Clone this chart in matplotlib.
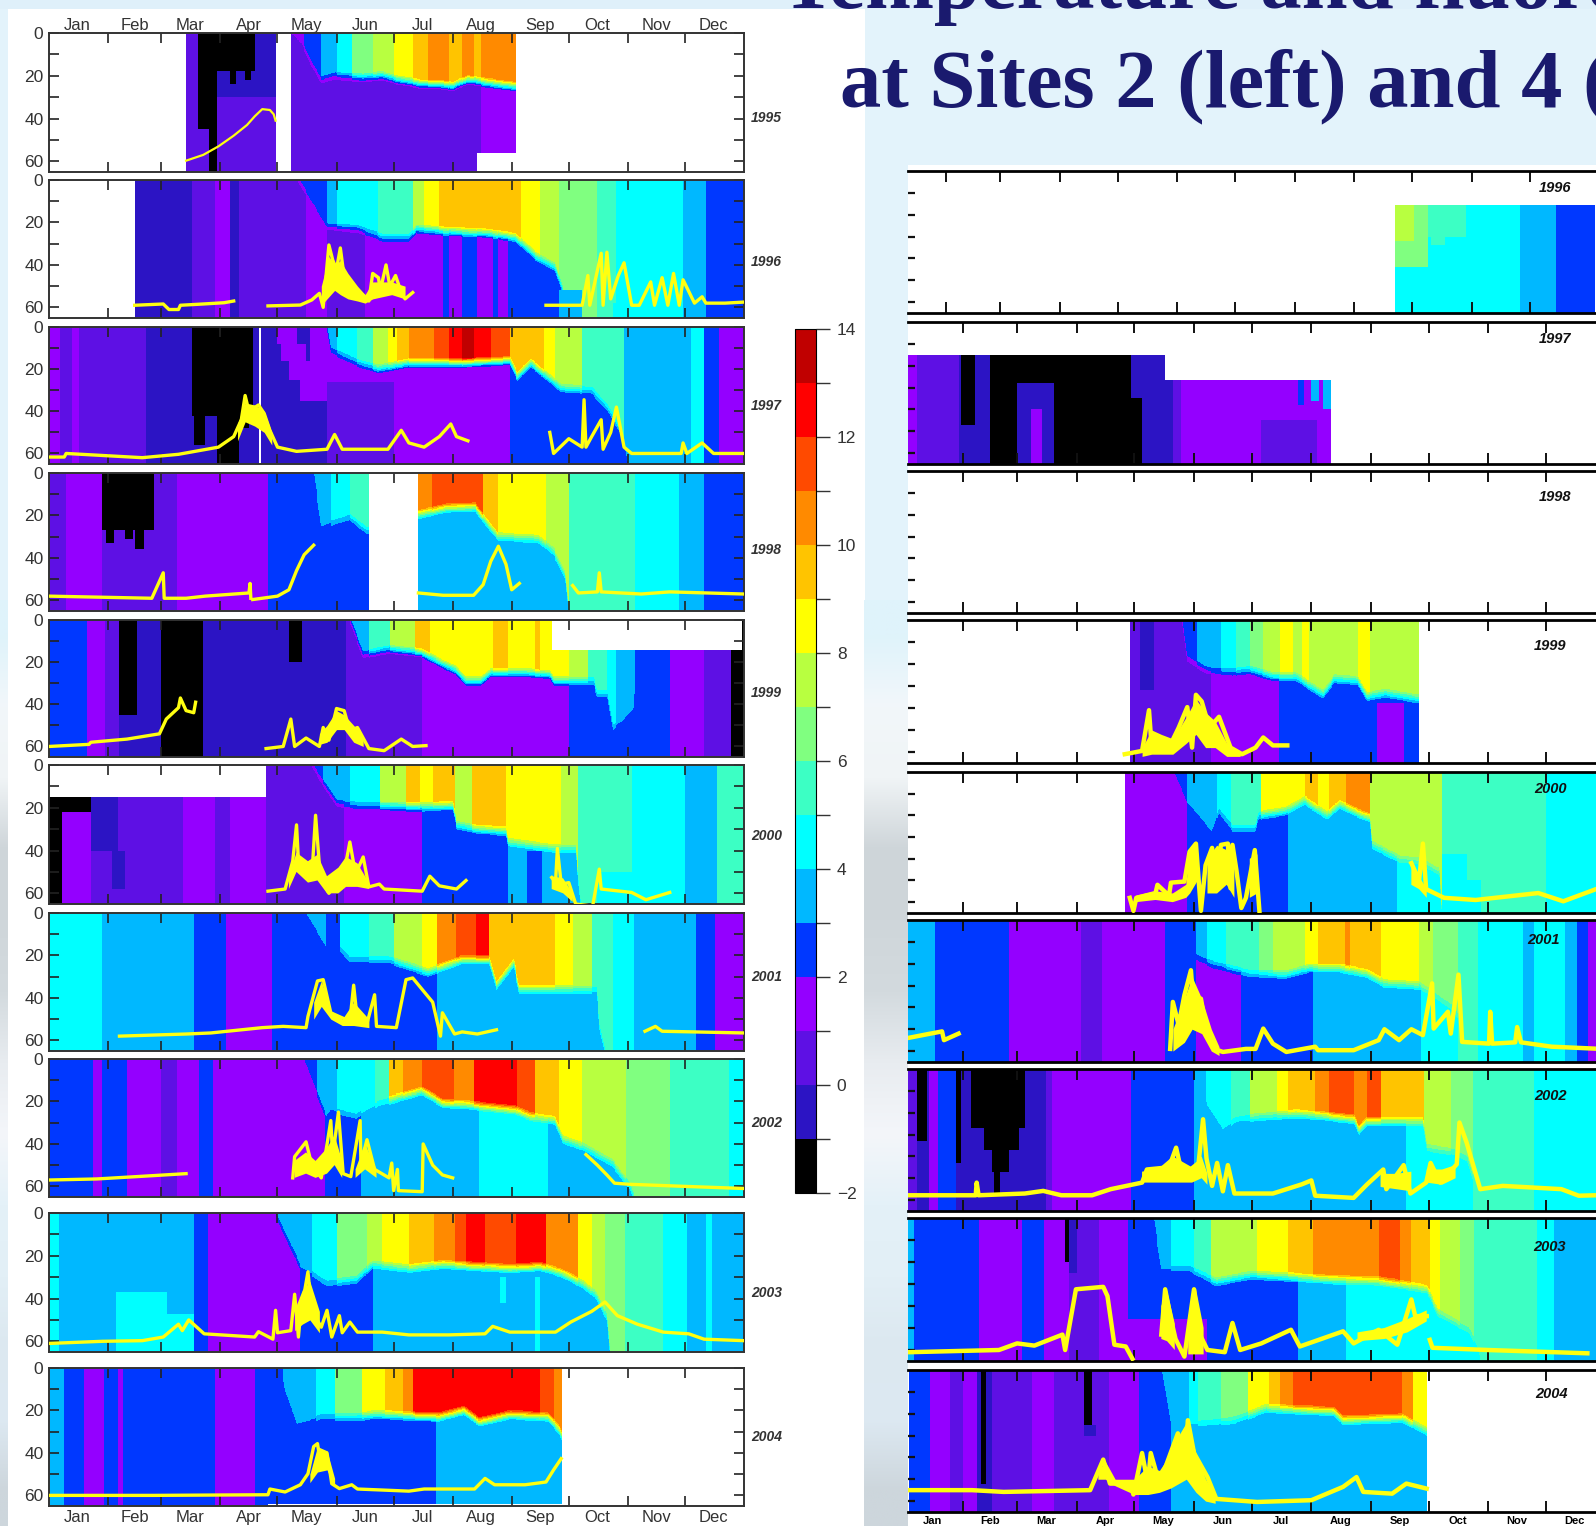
"""Temperature and fluorescence panels, Sites 2 (left) and 4 (right), 1995-2004."""

import numpy as np
import matplotlib
matplotlib.use("Agg")
import matplotlib.pyplot as plt
from matplotlib.colors import ListedColormap, BoundaryNorm, to_rgb
from matplotlib.patches import Rectangle

# temperature of each colour band (band middle, deg C)
K, I, Vi, P, B, S, C, T, G, L, Y, A, O, R, E, D = (
    -1.5, -0.5, 0.5, 1.5, 2.5, 3.5, 4.5, 5.5, 6.5, 7.5, 8.5, 9.5, 10.5, 11.5, 12.5, 13.5)
NA = float("nan")

BAND_COLORS = ["#000000", "#2c14c4", "#5e10e4", "#9400ff", "#0038ff", "#00b8ff", "#00ffff",
               "#3cffc4", "#80ff80", "#b8ff40", "#ffff00", "#ffc400", "#ff8a00", "#ff4a00",
               "#ff0000", "#c00000"]
MONTHS = ["Jan", "Feb", "Mar", "Apr", "May", "Jun", "Jul", "Aug", "Sep", "Oct", "Nov", "Dec"]
MONTH_STARTS = [31, 59, 90, 120, 151, 181, 212, 243, 273, 304, 334]
MONTH_MIDS = [15, 45, 74, 105, 135, 166, 196, 227, 258, 288, 319, 349]
STRIP_COLORS = ["#dff3fb", "#f2f7fa", "#f0f4f6", "#ced5d9", "#cfd6da", "#d3dade", "#e8ecf0", "#f4f6fa",
                "#e4f1f8", "#e2eff6", "#dce8f0", "#dde9f2", "#cdd6dc"]

LEFT_YEARS = [1995, 1996, 1997, 1998, 1999, 2000, 2001, 2002, 2003, 2004]
RIGHT_YEARS = [1996, 1997, 1998, 1999, 2000, 2001, 2002, 2003, 2004]

# ---- Site 2 (left) ----
l1995_top_d = [127, 134, 143, 151, 159, 170, 181, 191, 199, 210, 217, 223, 227, 245]
l1995_top_t = [P, B, S, C, G, L, Y, A, O, A, O, A, O]
l1995_deep_d = [72, 78, 119, 127, 227, 245]
l1995_deep_t = [Vi, Vi, Vi, Vi, P]
l1995_mld_d = [127, 133, 138, 143, 150, 165, 175, 183, 190, 196, 205, 212, 220, 228, 236, 245]
l1995_mld_z = [0, 5, 15, 22, 20, 21, 20, 22, 23, 24, 24, 25, 22, 23, 24, 25]
l1995_patches = [(88, 119, 0, 30, I), (78, 108, 0, 18, K), (95, 98, 18, 24, K), (103, 106, 18, 22, K),
                 (78, 84, 18, 45, K), (84, 88, 18, 65, K), (119, 127, 0, 65, NA), (225, 246, 56, 65, NA)]
l1995_fl_d = [72, 81, 89, 97, 104, 108, 112, 116, 118, 119]
l1995_fl_z = [59.7, 57, 53, 48, 43, 39, 35.6, 36, 38, 41]

l1996_top_d = [131, 146, 151, 173, 191, 197, 205, 248, 258, 268, 288, 298, 333, 345, 365]
l1996_top_t = [B, S, C, T, L, Y, A, Y, L, G, T, C, S, B]
l1996_deep_d = [45, 75, 87, 95, 100, 135, 146, 166, 207, 210, 217, 225, 233, 236, 241, 272]
l1996_deep_t = [I, Vi, P, I, Vi, P, Vi, P, B, P, B, P, B, P, B]
l1996_mld_d = [131, 146, 162, 175, 189, 193, 207, 229, 245, 256, 266, 270, 272, 273, 365]
l1996_mld_z = [0, 22, 23, 27, 27, 23, 24, 25, 27, 36, 41, 52, 65, 70, 70]
l1996_patches = [(268, 280, 52, 65, S), (296, 300, 58, 65, C)]
l1996_fl_d = [45, 60, 63, 68, 69, 81, 92, 97, NA, 115, 132, 138, 142, 144, 145, 147, 149, 151, 153, 155, 159,
              162, 166, 168, 170, 173, 174, 177, 179, 182, 185, 187, 191, NA, 261, 280, 283, 284, 290, 291,
              293, 295, 299, 302, 306, 310, 316, 318, 322, 325, 328, 331, 333, 339, 343, 345, 355, 365]
l1996_fl_z = [59, 58.4, 61, 61, 59, 58.4, 57.8, 57, NA, 59.3, 58.9, 56.5, 53.4, 60, 50, 30.6, 37.7, 42, 32, 45.5,
              48.7, 52, 55, 57, 44, 46, 52, 40, 50, 45, 53, 56, 53, NA, 59, 59, 45, 59, 34.5, 59,
              34, 56, 45, 39, 59, 59, 48, 59, 46, 59, 44, 59, 47, 58, 55, 58, 58, 57.5]
l1996_fill_d = [143, 147, 150, 153, 157, 162, 166, 170, 180, 187]
l1996_fill_up = [50, 36, 40, 38, 44, 50, 54, 48, 48, 50]
l1996_fill_lo = [59, 55, 52, 54, 56, 57, 58, 56, 54, 56]

l1997_top_d = [146, 151, 162, 170, 178, 183, 189, 202, 210, 217, 223, 232, 242, 260, 266, 280, 302, 337, 344, 352, 365]
l1997_top_t = [S, C, T, L, Y, A, O, R, E, D, E, R, A, Y, L, T, S, C, B, P]
l1997_deep_d = [0, 6, 12, 16, 51, 75, 146, 242, 304]
l1997_deep_t = [P, Vi, P, Vi, I, I, P, B]
l1997_mld_d = [146, 148, 162, 173, 189, 215, 242, 246, 253, 261, 269, 285, 293, 301, 304, 305, 365]
l1997_mld_z = [0, 11, 17, 20, 17, 17, 16, 23.5, 17, 23, 29, 30, 38, 50, 65, 70, 70]
l1997_patches = [(120, 130, 0, 8, P), (122, 135, 8, 16, P), (126, 140, 16, 25, P), (132, 146, 25, 35, P), (137, 146, 0, 25, P),
                 (146, 181, 26, 65, Vi), (75, 107, 0, 42, K), (76, 82, 42, 56, K), (88, 100, 42, 65, K), (100, 105, 42, 48, K),
                 (110.5, 111.5, 0, 65, NA)]
l1997_fl_d = [0, 8, 9, 49, 68, 89, 97, 101, 103, 105, 110, 113, 116, 120, 130, 146, 150, 154, 178, 185, 189, 197, 205, 211, 214, 220,
              NA, 263, 265, 273, 280, 281, 282, 285, 290, 291, 295, 298, 302, 306, 332, 333, 335, 343, 349, 365]
l1997_fl_z = [61.7, 61.7, 60, 62, 60.4, 57, 52, 44, 32.5, 40, 37, 41, 49, 57, 59, 58, 51, 58, 58, 49, 55, 57, 52, 46, 52, 54,
              NA, 50, 60, 53, 57, 34.5, 57, 52, 44, 58, 50, 38, 57, 60, 60, 55, 60, 55, 60, 60]
l1997_fill_d = [99, 103, 108, 113, 117]
l1997_fill_up = [46, 36, 37, 40, 50]
l1997_fill_lo = [54, 45, 47, 50, 56]

l1998_top_d = [139, 148, 158, 168, 194, 201, 228, 236, 261, 273, 308, 331, 344, 365]
l1998_top_t = [S, C, T, T, O, R, A, Y, L, T, C, S, B]
l1998_deep_d = [0, 9, 21, 28, 55, 67, 115, 168, 194, 275]
l1998_deep_t = [Vi, P, P, Vi, Vi, P, B, NA, S]
l1998_mld_d = [139, 143, 158, 167, 194, 209, 224, 232, 236, 257, 265, 271, 273, 274, 365]
l1998_mld_z = [0, 25, 21, 27, 19.6, 16.5, 16, 26, 30, 31, 37, 48, 65, 70, 70]
l1998_patches = [(28, 55, 0, 27, K), (30, 34, 27, 33, K), (40, 44, 27, 31, K), (45, 50, 27, 36, K), (168, 194, 0, 65, NA)]
l1998_fl_d = [0, 54, 56, 60, 60.5, 72, 82, 105, 105.6, 106, NA, 107, 120, 126, 130, 134, 139,
              NA, 194, 207, 223, 228, 232, 236, 240, 243, 247, NA, 275, 278, 288, 289, 290, 311, 326, 365]
l1998_fl_z = [58, 59, 55, 47, 59, 59, 58, 56.5, 52, 59, NA, 59.6, 58, 55, 46, 38.5, 34,
              NA, 56.5, 57.6, 57.6, 52.6, 41.6, 34.5, 43, 55, 52, NA, 53, 56.5, 56, 47, 56, 57, 56, 57]

l1999_top_d = [158, 163, 168, 179, 192, 200, 233, 241, 255, 258, 273, 283, 293, 298, 308]
l1999_top_t = [S, S, T, L, A, Y, A, Y, A, Y, L, T, C, S]
l1999_deep_d = [0, 20, 29.5, 37, 46, 59, 81, 156, 196, 273, 293, 326, 344, 358, 365]
l1999_deep_t = [B, P, Vi, I, I, K, I, Vi, P, B, B, P, Vi, K]
l1999_mld_d = [158, 165, 179, 196, 207, 214, 219, 227, 232, 250, 263, 265, 286, 288, 293, 296, 301, 307, 308, 309]
l1999_mld_z = [0, 16.5, 14, 15.7, 21, 24, 29, 29, 25, 25, 26, 29, 29, 35, 35, 51, 48, 41.6, 15, 0]
l1999_patches = [(37, 46, 0, 45, K), (126, 133, 0, 20, K), (264, 364, 0, 14.1, NA)]
l1999_fl_d = [0, 21, 22, 41, 58, 61.6, 68, 69, 72, 76, 77, NA, 114, 123, 127, 129, 135, 142, 144, 147, 151, 155, 158, 162, 168, 176, 185, 191, 198]
l1999_fl_z = [60, 59, 58, 56.5, 54, 47, 41.6, 37, 43, 44, 39, NA, 61, 60, 47, 60, 56, 60, 51, 57, 42, 43, 52.6, 51, 61, 62, 56.5, 60, 59.6]
l1999_fill_d = [142, 146, 151, 155, 160, 165]
l1999_fill_up = [54, 50, 43, 45, 50, 55]
l1999_fill_lo = [59, 58, 52, 52, 58, 60]

l2000_top_d = [138, 144, 158, 174, 187.5, 195, 201.5, 213, 222, 240, 269, 278, 306, 334, 351, 365]
l2000_top_t = [B, S, C, L, A, Y, A, L, A, Y, L, T, C, S, T]
l2000_deep_d = [0, 7, 22, 70.5, 87, 95, 114, 155, 196, 241, 280]
l2000_deep_t = [K, P, Vi, P, Vi, P, Vi, P, B, S]
l2000_mld_d = [138, 151, 163, 196, 212, 214, 224, 240, 241, 265, 277, 278, 280, 365]
l2000_mld_z = [0, 18, 19, 19.6, 19, 28, 30, 31, 36, 39, 39, 53, 70, 70]
l2000_patches = [(0, 114, 0, 15, NA), (7, 22, 15, 22, K), (22, 36, 15, 40, I), (33, 40, 40, 58, I), (251, 259, 40, 65, B),
                 (288, 306, 50, 65, C)]
l2000_fl_d = [115, 124, 128, 130, 131, 135, 138, 140, 142.5, 147, 154.5, 158, 161, 165, 168, 173.5, 176, 196, 200, 205, 214, 219,
              NA, 264, 266, 267, 269, 273, 276.6, 285.5, 289, 290, 306, 313.5, 326]
l2000_fl_z = [59, 58, 45, 28, 45, 48, 52.6, 23.5, 52.6, 60, 52.6, 36, 51, 43, 57, 55.7, 58, 59, 52, 56.5, 58, 54,
              NA, 52.6, 55, 39, 55.7, 55, 65, 66, 48.7, 58, 59.6, 63, 59.6]
l2000_fill_d = [126, 130, 136, 141, 146, 152, 156, 162, 168, NA, 264, 270, 275]
l2000_fill_up = [52, 41, 45, 42, 52, 48, 43, 46, 55, NA, 52, 53, 60]
l2000_fill_lo = [58, 50, 55, 54, 60, 60, 57, 57, 58, NA, 58, 60, 64]

l2001_top_d = [135, 145.5, 153, 168, 181, 196, 204, 214, 224, 231, 242, 266, 275, 285, 296, 307, 340, 350, 365]
l2001_top_t = [S, B, C, T, L, Y, O, R, E, A, A, Y, L, T, C, S, B, P]
l2001_deep_d = [0, 28, 76, 93, 117, 204, 292]
l2001_deep_t = [C, S, B, P, B, S]
l2001_mld_d = [135, 145.5, 153, 158, 178.6, 199, 217, 231, 235, 244, 247, 263, 288, 289, 292, 293, 365]
l2001_mld_z = [0, 16, 17, 22, 22, 28, 22, 22, 34.5, 23.5, 36, 36, 36, 53, 65, 70, 70]
l2001_patches = []
l2001_fl_d = [37, 72, 85, 112, 123, 135, 136, 141, 144, 148, 158, 160, 162, 167, 171, 172, 182.4, 187.5, 191, 201.5, 205.6, 206.6, 213, 217, 225, 235,
              NA, 313, 318.5, 322, 365]
l2001_fl_z = [58, 57, 56.5, 54, 53.4, 54, 48.7, 32, 31.4, 47, 51, 34, 51, 52, 38.5, 53.4, 54, 31.4, 30.6, 42, 58, 47, 57, 56, 57, 55,
              NA, 55.7, 53.4, 55.7, 56.5]
l2001_fill_d = [139, 143, 148, 154, 160, 168]
l2001_fill_up = [42, 32, 46, 50, 42, 50]
l2001_fill_lo = [50, 44, 50, 53, 53, 54]

l2002_top_d = [134, 141, 151, 171, 178.5, 186, 196, 212.5, 223, 246, 255, 268, 280, 303, 326, 357, 365]
l2002_top_t = [B, S, C, T, A, O, R, O, E, R, A, Y, L, G, T, C]
l2002_deep_d = [0, 23, 28, 41, 50, 59, 67, 79, 86, 96, 145, 164, 226, 262, 308]
l2002_deep_t = [B, P, B, P, P, Vi, P, B, P, P, B, S, C, S]
l2002_mld_d = [134, 145.5, 148, 161, 173, 196, 207, 219, 245, 252.6, 266, 270, 280, 296, 305, 307, 308, 365]
l2002_mld_z = [0, 27, 24, 27, 21, 15, 21, 21.6, 24, 27, 29, 38, 41, 49, 60, 65, 70, 70]
l2002_patches = []
l2002_fl_d = [0, 25, 46, 72, NA, 128, 129, 135, 138, 143, 145.5, 148, 149, 152, 154.5, 158.5, 163.4, 163.8, 167, 171, 178.6, 180, 181, 183, 183.5, 196, 196.5,
              201.5, 206.6, 212, NA, 282, 288, 293, 297, 304.6, 334, 365]
l2002_fl_z = [57, 56.5, 55.4, 54, NA, 56, 46, 39, 50, 56, 43, 29, 46, 25, 54, 55.4, 29, 49, 38, 52, 56, 49, 62, 52, 62, 62.5, 40,
              50, 54.6, 56, NA, 45, 50, 54.6, 58.5, 59, 60, 61]
l2002_fill_d = [129, 135, 140, 146, 150, 154, NA, 161, 166, 172]
l2002_fill_up = [48, 44, 48, 42, 36, 48, NA, 52, 40, 52]
l2002_fill_lo = [56, 54, 56, 54, 50, 56, NA, 56, 52, 56]

l2003_top_d = [119, 138, 151, 167, 175, 189, 202, 213, 219, 229, 245, 261, 278, 285, 292, 302.5, 322.6, 335, 345, 348, 365]
l2003_top_t = [S, C, G, L, Y, A, O, R, E, R, E, O, Y, L, G, T, C, S, C, S]
l2003_deep_d = [0, 5, 76, 83.6, 119, 132, 170, 295]
l2003_deep_t = [C, S, B, P, P, B, S]
l2003_mld_d = [119, 127, 132, 146, 162, 170, 189, 207, 242, 258, 269, 280, 288, 293, 294.5, 295, 365]
l2003_mld_z = [0, 16, 25, 33, 31, 24, 26, 24, 26, 25, 28, 33, 39, 49, 65, 70, 70]
l2003_patches = [(35, 62, 37, 65, C), (62, 76, 47, 65, C), (255.5, 258, 30, 65, C), (237, 240, 30, 42, C)]
l2003_fl_d = [0, 28, 49, 60, 68, 70, 73.4, 81.5, 108, 110, 117.6, 119, 120, 127, 129, 131, 132, 136, 138, 143, 146, 148.5, 152.5, 154, 158, 162,
              175, 189, 210, 229, 233, 242, 266, 274, 285, 292, 298.5, 309, 322.6, 336, 344, 365]
l2003_fl_z = [61, 60, 59.7, 58, 52, 55, 50, 56.5, 58, 55.5, 59, 45.5, 56, 55, 38, 58, 48, 27.5, 45.5, 53.4, 45.5, 58, 48, 56, 51, 55.7,
              55.7, 57, 57, 56.5, 53, 55.7, 55.7, 51, 46, 41.6, 48, 52, 55.7, 56.5, 59, 59.7]
l2003_fill_d = [129, 133, 137, 142]
l2003_fill_up = [45, 36, 32, 46]
l2003_fill_lo = [55, 52, 50, 56]

l2004_top_d = [123, 140, 150, 164.5, 176.6, 186, 191, 258, 265, 269.5]
l2004_top_t = [S, C, G, Y, A, O, E, R, O]
l2004_deep_d = [0, 8, 18.5, 29, 36, 39, 87, 108, 203, 269.5]
l2004_deep_t = [S, B, P, B, P, B, P, B, S]
l2004_mld_d = [122, 124, 130, 143, 162, 171, 205, 218, 226, 242, 262, 268, 269.5]
l2004_mld_z = [0, 10.5, 26.4, 23, 23, 22, 23, 20, 25.4, 22, 23, 29, 32]
l2004_patches = [(115, 270, 64, 65, NA)]
l2004_fl_d = [0, 55, 115, 116, 124, 132, 136, 139, 141, 143, 146, 148.5, 152.5, 159, 162, 189, 197, 223.5, 229, 234, 250, 261, 265, 269]
l2004_fl_z = [60, 60, 59.7, 57, 58.4, 55, 49.8, 37, 35.6, 47, 40, 54.5, 56.8, 55, 57, 58, 57, 57, 52, 55, 55, 53.7, 48, 42.7]
l2004_fill_d = [137, 141, 146, 150]
l2004_fill_up = [50, 37, 39, 52]
l2004_fill_lo = [54, 49, 48, 56]

# ---- Site 4 (right) ----
r1996_top_d = []
r1996_top_t = []
r1996_deep_d = [264, 329, 347.5, 368]
r1996_deep_t = [C, S, B]
r1996_mld_d = [264, 368]
r1996_mld_z = [0, 0]
r1996_patches = [(264, 369, 0, 15.6, NA), (272, 301, 15.6, 30, T), (283, 290, 30, 34, T), (264, 281, 15.6, 44, G),
                 (264, 274, 15.6, 32, L)]
r1996_fl_d = []
r1996_fl_z = []

r1997_top_d = []
r1997_top_t = []
r1997_deep_d = [2, 7, 29, 45, 124, 140, 144, 222]
r1997_deep_t = [P, Vi, I, K, I, Vi, P]
r1997_mld_d = [2, 222]
r1997_mld_z = [0, 0]
r1997_patches = [(30, 37, 0, 47, K), (59, 78, 28, 65, I), (66, 72, 40, 65, P), (118, 124, 0, 35, I), (186, 215, 45, 65, Vi),
                 (205, 208, 26.5, 38, B), (212, 216, 26.5, 36, S), (218, 222, 26.5, 40, S), (2, 136, 0, 15, NA), (136, 223, 0, 26.5, NA)]
r1997_fl_d = []
r1997_fl_z = []

r1998_top_d = []
r1998_top_t = []
r1998_deep_d = []
r1998_deep_t = []
r1998_mld_d = [0, 365]
r1998_mld_z = [0, 0]
r1998_patches = []
r1998_fl_d = []
r1998_fl_z = []

r1999_top_d = [117.6, 123, 130, 136, 145, 152.5, 165, 173, 180, 187, 195.5, 202.5, 207, 211, 236.5, 242.5, 268]
r1999_top_t = [Vi, I, Vi, P, B, S, C, T, G, L, Y, L, Y, L, Y, L]
r1999_deep_d = [117.6, 160, 195, 268]
r1999_deep_t = [Vi, P, B]
r1999_mld_d = [117.6, 145, 147.6, 157, 171, 180, 192, 204, 218, 224, 236.5, 241, 250.6, 267, 268]
r1999_mld_z = [0, 0, 18, 23, 24, 23, 26, 26, 34, 27, 28, 35, 33.5, 36, 36]
r1999_patches = [(123, 130, 0, 32, I), (246, 260, 38, 65, P)]
r1999_fl_d = [115, 124, 127.6, 129, 133.5, 138, 143, 147.5, 150, 152, 155, 159, 164, 170, 176, 183, 187, 192, 199.5]
r1999_fl_z = [61, 59.5, 41, 58, 53.4, 58, 49, 39.6, 58, 34, 37, 49, 44, 58, 61, 58, 53.4, 57, 57]
r1999_fill_d = [124, 129, 134, 140, 147, 152, 157, 162, 168, 175]
r1999_fill_up = [58, 50, 52, 54, 44, 36, 42, 46, 56, 60]
r1999_fill_lo = [62, 61, 61, 61, 56, 52, 58, 58, 62, 62]

r2000_top_d = [115, 140.5, 147.5, 163, 170, 186, 208.5, 215.5, 221, 230, 242.4, 280, 334, 362]
r2000_top_t = [P, B, S, C, T, Y, A, Y, A, O, L, T, C]
r2000_deep_d = [115, 147.5, 200, 256.5, 293]
r2000_deep_t = [P, B, S, C]
r2000_mld_d = [140.5, 147.6, 160.4, 164, 171, 182.6, 185, 199, 208.5, 220, 227, 239, 242.4, 243.6, 257.6, 268, 278.7, 280, 281, 362]
r2000_mld_z = [0, 14, 27.5, 18, 26, 26, 20, 18, 13, 20, 15, 20, 21, 33.6, 40, 41, 46, 65, 70, 70]
r2000_patches = [(280, 293, 38, 65, C), (293, 300, 50, 65, C)]
r2000_fl_d = [117.6, 119.5, 121, 131, 132, 138, 139, 146, 148.7, 152, 154.6, 157, 160.4, 162, 165, 168.6, 170, 171, 173, 175.6, 178, 182.6, 185,
              NA, 264, 268, 270, 271.7, 281, 297.4, 330, 343, 360]
r2000_fl_z = [58, 64, 58, 55.8, 52, 57, 51, 50.5, 36.7, 33, 64, 43, 35, 52, 33.6, 33, 53.6, 33.6, 45, 62.7, 58, 36, 64,
              NA, 42, 50, 33, 54, 58, 59, 55.8, 59.6, 54]
r2000_fill_d = [121, 131, 140, 147, 149, 153, NA, 158, 163, 168, 172, NA, 180, 184, NA, 264, 268, 272]
r2000_fill_up = [57, 55, 56, 52, 36, 34, NA, 40, 34, 36, 44, NA, 40, 38, NA, 44, 48, 54]
r2000_fill_lo = [60, 59, 60, 58, 56, 50, NA, 56, 56, 52, 58, NA, 58, 56, NA, 52, 54, 58]

r2001_top_d = [152, 158, 167.4, 185, 192, 208.4, 215.5, 229.5, 232, 248, 268, 275, 288, 298.6, 322, 328, 344, 350, 356, 362]
r2001_top_t = [S, C, T, G, L, Y, A, O, A, Y, L, G, T, C, S, C, S, B, P]
r2001_deep_d = [2, 16.4, 55, 92.5, 103, 136, 152, 175.6, 213, 269, 288]
r2001_deep_t = [S, B, P, Vi, P, B, P, B, S, C]
r2001_mld_d = [136, 152, 161.6, 180, 199, 211, 227, 241, 250, 268, 274, 278.6, 285, 288, 289, 362]
r2001_mld_z = [0, 17, 20.6, 24.5, 25, 22, 22, 24.5, 29, 30, 33, 36, 40, 44, 70, 70]
r2001_patches = []
r2001_fl_d = [2.3, 14, 20, 21, 28.6, NA, 138.6, 140, 143, 146, 149.4, 150.5, 154.6, 157, 161.6, 166, 178, 183, 187, 192, 199, 214, 215.5, 234, 247, 250, 257.6, 264, 270, 274.8,
              275.6, 283, 284.5, 288.5, 290.4, 304.4, 305, 306, 318, 319, 321, 337, 360]
r2001_fl_z = [54, 52, 51, 55, 52, NA, 59, 37.5, 48, 34.4, 23, 36, 36, 48, 59, 60.4, 59, 59, 49.7, 56.6, 60.4, 58, 59.6, 59.6, 55, 50, 55, 50, 52.7, 29,
              49.7, 42, 52, 25, 55.8, 56.6, 42, 56.6, 56, 49, 56, 58, 58.9]
r2001_fill_d = [140, 146, 150, 155, 160, 164]
r2001_fill_up = [50, 36, 26, 36, 50, 58]
r2001_fill_lo = [60, 56, 50, 52, 60, 62]

r2002_top_d = [151, 157, 170, 180, 194, 200, 214, 221, 234, 241, 248, 270.5, 284.5, 296, 328, 362]
r2002_top_t = [S, C, T, L, Y, A, O, R, O, R, A, L, G, T, C]
r2002_deep_d = [2, 7, 13, 18, 27, 30, 74, 77, 118, 151, 261, 296]
r2002_deep_t = [Vi, I, P, B, I, I, Vi, P, B, S, C]
r2002_mld_d = [151, 157, 166, 173, 185, 204, 218, 234, 237, 241, 260, 270, 272, 286, 293, 296, 297, 362]
r2002_mld_z = [0, 15, 27.5, 23, 22, 20.6, 21.4, 23, 28, 24, 24, 24, 36, 38, 41, 50, 70, 70]
r2002_patches = [(7, 12, 0, 33, K), (27, 30, 0, 43, K), (35, 63, 0, 27, K), (42, 60, 27, 37, K), (46, 55, 37, 47, K), (47, 50, 47, 58, K)]
r2002_fl_d = [2.3, 37.5, 38, 39, 63, 72.6, 82, 98, 107.7, 124, 126.5, 138, 141.7, 145, 153.4, 155.7, 157.5, 160.4, 163, 166, 168.6, 172, 192, 207, 212, 214, 234, 241, 249.4, 251,
              260, 263.5, 271.7, 274, 279, 287.6, 289, 292.7, 299.8, 311.5, 342, 351, 360]
r2002_fl_z = [57.8, 57.8, 52, 57.8, 57, 55.8, 57.8, 57.8, 55, 52, 46, 45, 36, 49, 43, 23, 41, 53.5, 43, 56, 44, 57, 57, 52.8, 51, 58, 59, 52.8, 46, 55,
              44, 57, 52, 43, 52, 43.6, 24.5, 33.6, 55, 53.5, 55, 58, 57.8]
r2002_fill_d = [124, 132, 140, 150, 155, 158, NA, 248, 256, 264, NA, 272, 280, 287]
r2002_fill_up = [47, 46, 40, 45, 40, 48, NA, 48, 48, 47, NA, 46, 46, 44]
r2002_fill_lo = [52, 52, 52, 52, 50, 53, NA, 54, 55, 56, NA, 52, 53, 50]

r2003_top_d = [130, 139, 151, 160, 184, 200, 213, 247, 258, 264, 273.6, 279, 289.6, 296.7, 329.6, 338, 362]
r2003_top_t = [S, C, T, L, Y, A, O, R, O, A, Y, L, G, T, C, S]
r2003_deep_d = [2, 5.6, 39, 61.4, 73, 86, 101.4, 116.7, 153, 205, 230, 300]
r2003_deep_t = [S, B, P, B, P, Vi, P, B, B, S, C]
r2003_mld_d = [130, 134, 148.5, 162.6, 181, 202.6, 223.8, 247, 264, 272, 278, 294, 299, 300, 362]
r2003_mld_z = [0, 23, 23, 29, 26, 27, 28, 28.6, 31, 32.4, 43, 51, 60, 70, 70]
r2003_patches = [(116.7, 158, 46, 65, P), (84, 86, 0, 20, K), (86, 90, 0, 25, I)]
r2003_fl_d = [2.8, 49.6, 59, 68, 82.6, 84, 89.6, 103.8, 106, 109.6, 115.5, 119, NA, 134, 136, 139, 141.4, 146, 151, 153.5, 158, 167, 171, 175, 186, 201.4, 206, 228.5, 234, 247, 256.7, 264, 266, 272,
              NA, 273.6, 275, 303.8, 355.5]
r2003_fl_z = [61, 60, 57, 58, 53, 60, 32.4, 31.3, 35.5, 57.6, 58.4, 64, NA, 53, 32.4, 46, 55, 63, 32.4, 52, 60, 61, 47.7, 60, 57, 50.8, 58.4, 51.5, 57, 50.8, 57.6, 37, 44.6, 44.6,
              NA, 55.4, 59, 60, 61.5]
r2003_fill_d = [134, 137, 141, NA, 148, 152, 156, NA, 236, 250, 262, 272]
r2003_fill_up = [40, 33, 48, NA, 45, 32, 50, NA, 52, 50, 46, 42]
r2003_fill_lo = [55, 56, 60, NA, 62, 62, 62, NA, 56, 55, 52, 47]

r2004_top_d = [134.4, 148.5, 153, 165, 179, 190, 195.5, 202.6, 259, 265, 272]
r2004_top_t = [S, C, T, G, Y, A, O, R, O, Y]
r2004_deep_d = [3, 13.6, 24, 31, 38, 46, 67, 78, 107, 122.6, 139, 272]
r2004_deep_t = [B, P, Vi, P, I, Vi, P, Vi, P, B, S]
r2004_mld_d = [134.4, 139, 153, 172, 188.5, 224, 228.5, 259, 271, 272]
r2004_mld_z = [0, 24.5, 24.5, 23, 17.6, 19, 23, 22, 27.5, 28]
r2004_patches = [(40, 43, 0, 52, K), (94, 98, 0, 25, K), (94, 100, 25, 30, I)]
r2004_fl_d = [3, 35.5, 52, 97, 101.4, 103.8, 107.3, 118, 119.5, 124, 127, 128.5, 133, 142.6, 146, 147.8, 151, 158, 162.6, 183.8, 212, 228.5, 235.5, 239, 254, 261.4, 272]
r2004_fl_z = [55, 55, 55.8, 55, 45.9, 41, 52, 52, 57, 38, 52, 38, 52, 29, 47, 23, 38, 49, 59, 60.4, 59.6, 53.5, 49, 55.8, 56.6, 52, 54.3]
r2004_fill_d = [101, 105, 110, 120, 127, 133, 139, 143, 147, 152, 157, 162]
r2004_fill_up = [46, 42, 50, 50, 44, 46, 38, 30, 24, 38, 50, 57]
r2004_fill_lo = [50, 50, 53, 57, 57, 56, 54, 52, 50, 56, 60, 61]

# axes position of each panel, in figure pixels (top, bottom)
LEFT_TOPS = [33, 180, 327, 473, 620, 765, 913, 1059, 1213, 1368]
LEFT_BOTTOMS = [172, 318, 464, 611, 757, 904, 1051, 1197, 1352, 1506]
RIGHT_TOPS = [171, 322, 471, 620, 772, 920, 1069, 1218, 1370]
RIGHT_BOTTOMS = [313, 464, 613, 763, 913, 1062, 1211, 1361, 1512]
LEFT_YEAR_Y = [118, 262, 406, 550, 693, 836, 977, 1123, 1293, 1437]
RIGHT_YEAR_XY = [(1555, 188), (1555, 339), (1555, 497), (1550, 646), (1550, 789), (1543, 940), (1550, 1096), (1549, 1247), (1551, 1394)]

W, H = 1596, 1526
DAYS = np.arange(0, 370, 0.5) + 0.25
DEPTHS = np.arange(0, 65, 0.25) + 0.125
RAMP = 2.5
FL_COLOR = "#ffff10"


def band(edges, temps):
    out = np.full(DAYS.shape, np.nan)
    for d0, d1, t in zip(edges[:-1], edges[1:], temps):
        out[(DAYS >= d0) & (DAYS < d1)] = t
    return out


def field(name):
    g = globals()
    top = band(g[name + "_top_d"], g[name + "_top_t"])
    deep = band(g[name + "_deep_d"], g[name + "_deep_t"])
    top = np.where(np.isnan(top), deep, top)
    deep = np.where(np.isnan(deep), top, deep)
    mld = np.interp(DAYS, g[name + "_mld_d"], g[name + "_mld_z"])
    dd, zz = np.meshgrid(DAYS, DEPTHS)
    frac = np.clip((mld + RAMP - zz) / (2 * RAMP), 0, 1)
    frac[:, mld <= 0] = 0
    frac[:, mld >= 68] = 1
    temp = deep + frac * (top - deep)
    for d0, d1, z0, z1, val in g[name + "_patches"]:
        mask = (dd >= d0) & (dd < d1) & (zz >= z0) & (zz < z1)
        temp[mask] = val
    return temp


def add_axes(x0, x1, top, bottom):
    return fig.add_axes([x0 / W, 1 - bottom / H, (x1 - x0) / W, (bottom - top) / H])


def draw_panel(ax, name, lw):
    g = globals()
    ax.imshow(field(name), extent=(0, 370, 65, 0), aspect="auto", interpolation="nearest",
              cmap=cmap, norm=norm, zorder=1)
    ax.plot(g[name + "_fl_d"], g[name + "_fl_z"], color=FL_COLOR, lw=lw,
            solid_joinstyle="round", zorder=3)
    # solid part of the blooms, where the trace is too dense to separate
    if name + "_fill_d" in g:
        ax.fill_between(g[name + "_fill_d"], np.array(g[name + "_fill_up"], float),
                        np.array(g[name + "_fill_lo"], float), color=FL_COLOR, lw=0, zorder=3)
    ax.set_ylim(65, 0)


def strip(x0, x1, top, bottom):
    ax = add_axes(x0, x1, top, bottom)
    ax.imshow(np.array([[to_rgb(c)] for c in STRIP_COLORS]), aspect="auto", interpolation="bilinear")
    ax.axis("off")


plt.rcParams["font.family"] = ["Liberation Sans", "DejaVu Sans"]
fig = plt.figure(figsize=(W / 100, H / 100), dpi=100, facecolor="#e3f3fb")

cmap = ListedColormap(BAND_COLORS)
cmap.set_bad("white")
norm = BoundaryNorm(np.arange(-2, 15), cmap.N)

# slide background
for x0, y0, x1, y1, col in [(0, 0, 1596, 9, "#dff0fa"), (8, 9, 865, 1526, "white"), (908, 165, 1596, 1526, "white")]:
    fig.add_artist(Rectangle((x0 / W, 1 - y1 / H), (x1 - x0) / W, (y1 - y0) / H, transform=fig.transFigure,
                             fc=col, ec="none", zorder=-5))
strip(864, 908, 600, 1526)
strip(0, 8, 600, 1526)

fig.text(781 / W, 1 - 8 / H, "Temperature and fluorescence", ha="left", va="baseline", family="Liberation Serif",
         weight="bold", size=59.5, color="#1a1a6e")
fig.text(840 / W, 1 - 107 / H, "at Sites 2 (left) and 4 (right)", ha="left", va="baseline", family="Liberation Serif",
         weight="bold", size=59.5, color="#1a1a6e")

# Site 2 panels
for i, year in enumerate(LEFT_YEARS):
    ax = add_axes(49, 744, LEFT_TOPS[i], LEFT_BOTTOMS[i])
    draw_panel(ax, "l%d" % year, 1.6 if year == 1995 else 2.4)
    ax.set_xlim(0, 365)
    ax.set_xticks(MONTH_STARTS)
    ax.set_yticks(range(0, 70, 10), ["0", "", "20", "", "40", "", "60"])
    ax.tick_params(axis="both", direction="in", top=True, right=True, length=7, width=1.2, color="#222222",
                   labelsize=12.5, labelcolor="#333333", pad=4)
    ax.tick_params(axis="x", labelbottom=False)
    for sp in ax.spines.values():
        sp.set_linewidth(1.4)
        sp.set_color("#333333")
    if year == 1995 or year == 2004:
        ax.set_xticks(MONTH_MIDS, MONTHS, minor=True)
        ax.tick_params(axis="x", which="minor", length=0, labelsize=12, labelcolor="#333333",
                       pad=0 if year == 1995 else 3, top=False, bottom=False,
                       labeltop=year == 1995, labelbottom=year == 2004)
    fig.text(751 / W, 1 - LEFT_YEAR_Y[i] / H, str(year), ha="left", va="center", style="italic", weight="bold",
             size=10, color="#333333")

# Site 4 panels run off the right edge of the slide
for i, year in enumerate(RIGHT_YEARS):
    ax = add_axes(908, 1596, RIGHT_TOPS[i], RIGHT_BOTTOMS[i])
    draw_panel(ax, "r%d" % year, 3.2)
    if year == 1996:
        ax.set_xlim(11, 368.5)
    else:
        ax.set_xlim(2.3, 360)
    ax.set_xticks(MONTH_STARTS)
    ax.set_yticks(range(10, 70, 10))
    ax.tick_params(axis="x", direction="in", top=True, length=8, width=1.4, color="#111111", labelbottom=False)
    ax.tick_params(axis="y", direction="in", length=5, width=1.6, color="#111111", labelleft=False)
    ax.spines["left"].set_visible(False)
    ax.spines["right"].set_visible(False)
    ax.spines["top"].set_linewidth(2)
    ax.spines["bottom"].set_linewidth(2)
    if year == 2004:
        ax.set_xticks(MONTH_MIDS, MONTHS, minor=True)
        ax.tick_params(axis="x", which="minor", length=0, labelsize=8, labelbottom=True, pad=3, top=False, bottom=False)
        for lab in ax.get_xticklabels(minor=True):
            lab.set_weight("bold")
    fig.text(RIGHT_YEAR_XY[i][0] / W, 1 - RIGHT_YEAR_XY[i][1] / H, str(year), ha="center", va="center",
             style="italic", weight="bold", size=10.5, color="#111111")

# colour bar
cax = add_axes(795, 816, 329, 1193)
sm = plt.cm.ScalarMappable(norm=norm, cmap=cmap)
cb = fig.colorbar(sm, cax=cax, spacing="proportional", ticks=list(range(-2, 15)))
cb.set_ticklabels(["" if t % 2 else ("\u2212" + str(-t) if t < 0 else str(t)) for t in range(-2, 15)])
cb.ax.tick_params(length=10, width=1, color="#333333", labelsize=12.5, labelcolor="#333333", pad=5)
cb.outline.set_linewidth(0.8)
cb.minorticks_off()

fig.savefig("out.png", dpi=100, facecolor=fig.get_facecolor())
